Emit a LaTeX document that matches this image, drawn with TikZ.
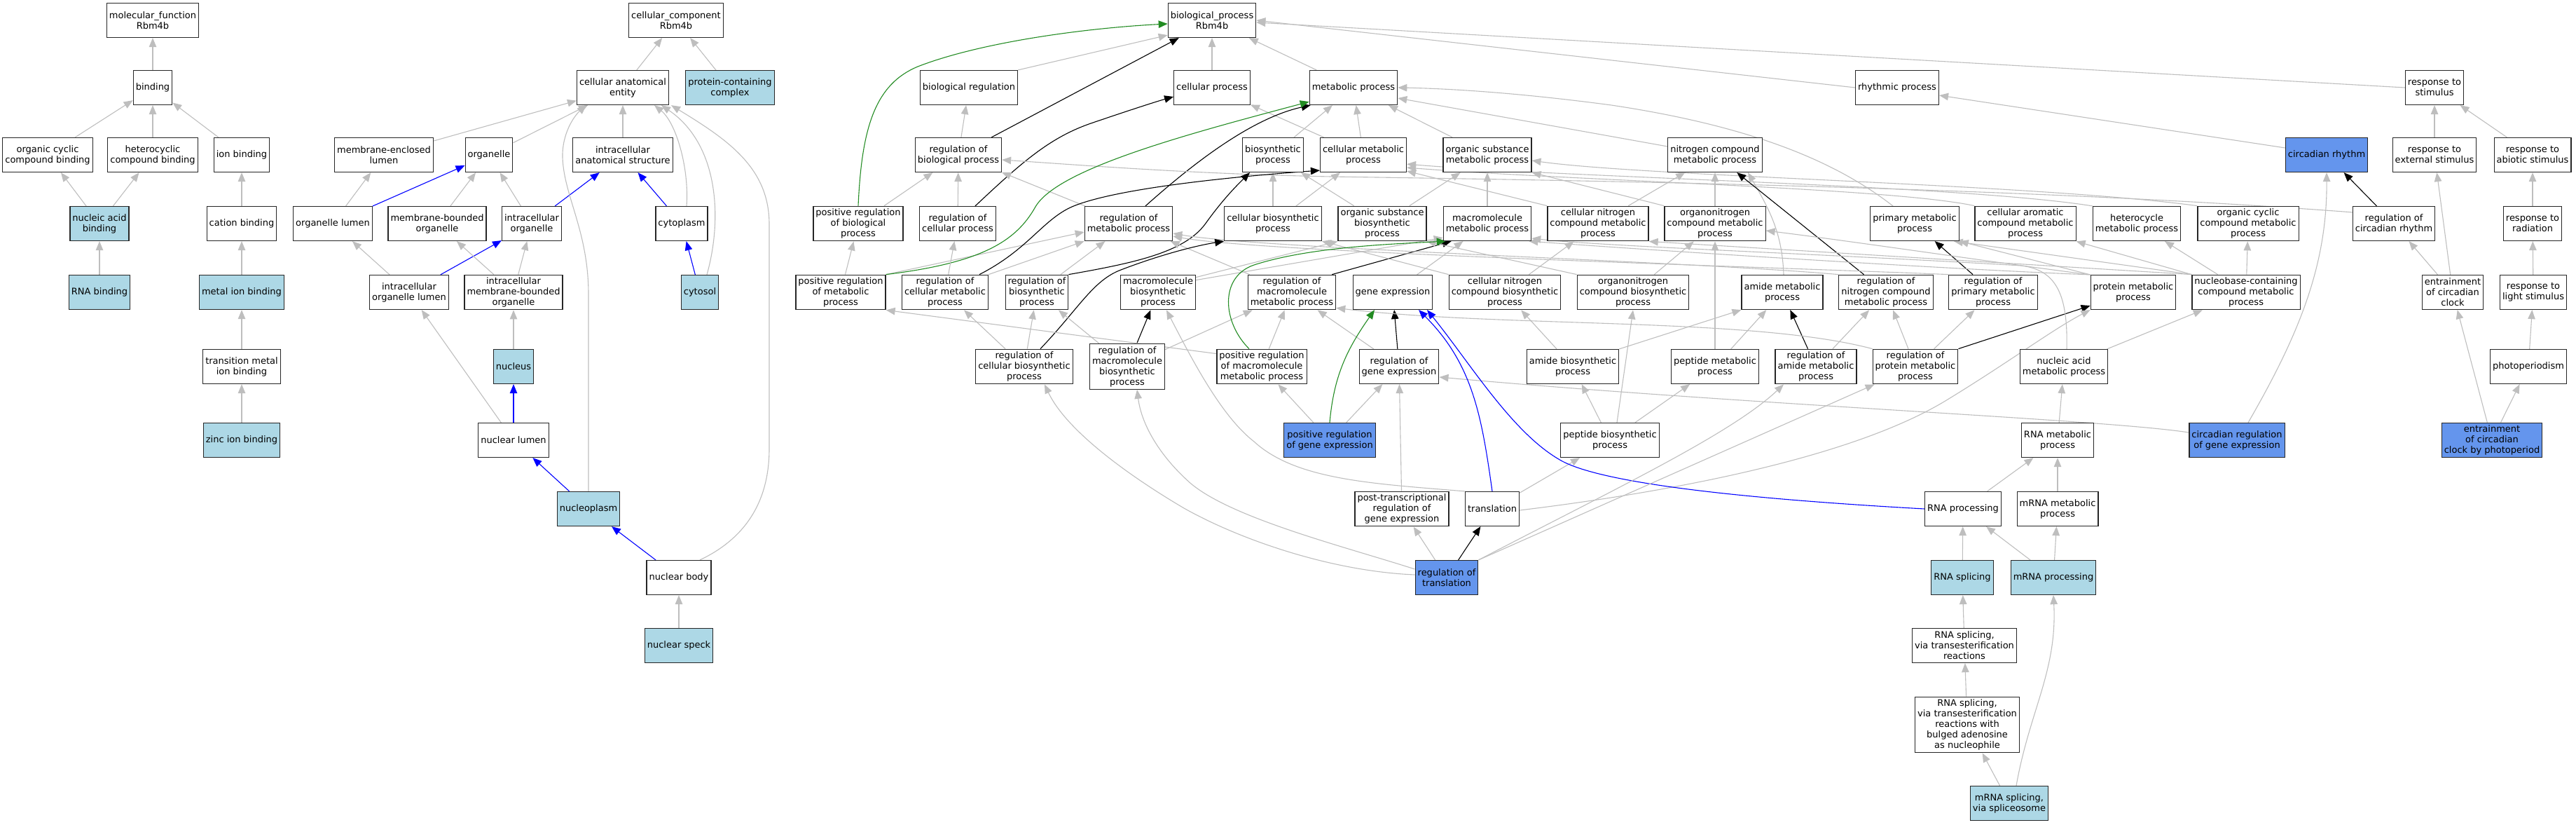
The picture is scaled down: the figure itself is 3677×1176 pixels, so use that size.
\documentclass[tikz,border=0pt]{standalone}
\usepackage{fontspec}
\setmainfont{DejaVu Sans}
\usetikzlibrary{arrows.meta,backgrounds}
\definecolor{annotated}{HTML}{ADD8E6}
\definecolor{selected}{HTML}{6495ED}
\definecolor{isagray}{HTML}{BEBEBE}
\definecolor{posgreen}{HTML}{228B22}
\tikzset{
  term/.style={draw=black!85, line width=1.2pt, fill=white, rectangle, align=center,
    inner xsep=3.5pt, inner ysep=3.5pt, minimum height=49pt,
    font=\fontsize{13}{15}\selectfont},
  annot/.style={term, fill=annotated},
  chosen/.style={term, fill=selected},
  link/.style={line width=1.1pt, -{Triangle[length=13pt,width=10.5pt]}},
  isa/.style={link, isagray},
  partof/.style={link, blue},
  regs/.style={link, black},
  posregs/.style={link, posgreen},
}
\begin{document}
\begin{tikzpicture}[x=1pt,y=-1pt]
\useasboundingbox (0,0) rectangle (3677,1176);
\node[term] (mf) at (218,29) {molecular\_function\\Rbm4b};
\node[term] (binding) at (218,125) {binding};
\node[term] (occb) at (68,221) {organic cyclic\\compound binding};
\node[term] (hcb) at (218,221) {heterocyclic\\compound binding};
\node[term] (ionb) at (345,221) {ion binding};
\node[annot] (nab) at (142,319) {nucleic acid\\binding};
\node[term] (cationb) at (345,319) {cation binding};
\node[annot] (rnab) at (142,417) {RNA binding};
\node[annot] (metalb) at (345,417) {metal ion binding};
\node[term] (tmib) at (345,523) {transition metal\\ion binding};
\node[annot] (zincb) at (345,628) {zinc ion binding};
\node[term] (cc) at (965,29) {cellular\_component\\Rbm4b};
\node[term] (cae) at (889,125) {cellular anatomical\\entity};
\node[annot] (pcc) at (1042,125) {protein-containing\\complex};
\node[term] (mel) at (548,221) {membrane-enclosed\\lumen};
\node[term] (organelle) at (698,221) {organelle};
\node[term] (ias) at (889,221) {intracellular\\anatomical structure};
\node[term] (olumen) at (475,319) {organelle lumen};
\node[term] (mbo) at (624,319) {membrane-bounded\\organelle};
\node[term] (iorg) at (759,319) {intracellular\\organelle};
\node[term] (cytoplasm) at (973,319) {cytoplasm};
\node[term] (iol) at (584,417) {intracellular\\organelle lumen};
\node[term] (imbo) at (733,417) {intracellular\\membrane-bounded\\organelle};
\node[annot] (cytosol) at (999,417) {cytosol};
\node[annot] (nucleus) at (733,523) {nucleus};
\node[term] (nlumen) at (733,628) {nuclear lumen};
\node[annot] (nplasm) at (840,726) {nucleoplasm};
\node[term] (nbody) at (969,824) {nuclear body};
\node[annot] (nspeck) at (969,921) {nuclear speck};
\node[term] (bp) at (1730,29) {biological\_process\\Rbm4b};
\node[term] (bioreg) at (1383,125) {biological regulation};
\node[term] (cellproc) at (1730,125) {cellular process};
\node[term] (metproc) at (1932,125) {metabolic process};
\node[term] (rhythmic) at (2708,125) {rhythmic process};
\node[term] (respstim) at (3475,125) {response to\\stimulus};
\node[term] (regbio) at (1368,221) {regulation of\\biological process};
\node[term] (biosyn) at (1817,221) {biosynthetic\\process};
\node[term] (cellmet) at (1946,221) {cellular metabolic\\process};
\node[term] (orgsubmet) at (2123,221) {organic substance\\metabolic process};
\node[term] (nitromet) at (2448,221) {nitrogen compound\\metabolic process};
\node[chosen] (circrhythm) at (3321,221) {circadian rhythm};
\node[term] (respext) at (3475,221) {response to\\external stimulus};
\node[term] (respabio) at (3615,221) {response to\\abiotic stimulus};
\node[term] (posregbio) at (1225,319) {positive regulation\\of biological\\process};
\node[term] (regcell) at (1367,319) {regulation of\\cellular process};
\node[term] (regmet) at (1611,319) {regulation of\\metabolic process};
\node[term] (cellbiosyn) at (1817,319) {cellular biosynthetic\\process};
\node[term] (orgsubbiosyn) at (1973,319) {organic substance\\biosynthetic\\process};
\node[term] (macromet) at (2123,319) {macromolecule\\metabolic process};
\node[term] (cncmet) at (2281,319) {cellular nitrogen\\compound metabolic\\process};
\node[term] (orgnitromet) at (2448,319) {organonitrogen\\compound metabolic\\process};
\node[term] (primet) at (2733,319) {primary metabolic\\process};
\node[term] (cellaro) at (2891,319) {cellular aromatic\\compound metabolic\\process};
\node[term] (hetero) at (3050,319) {heterocycle\\metabolic process};
\node[term] (orgcyc) at (3209,319) {organic cyclic\\compound metabolic\\process};
\node[term] (regcirc) at (3417,319) {regulation of\\circadian rhythm};
\node[term] (resprad) at (3615,319) {response to\\radiation};
\node[term] (posregmet) at (1200,417) {positive regulation\\of metabolic\\process};
\node[term] (regcellmet) at (1349,417) {regulation of\\cellular metabolic\\process};
\node[term] (regbiosyn) at (1480,417) {regulation of\\biosynthetic\\process};
\node[term] (macrobiosyn) at (1653,417) {macromolecule\\biosynthetic\\process};
\node[term] (regmacromet) at (1844,417) {regulation of\\macromolecule\\metabolic process};
\node[term] (geneexp) at (1988,417) {gene expression};
\node[term] (cncbiosyn) at (2148,417) {cellular nitrogen\\compound biosynthetic\\process};
\node[term] (orgnitrobiosyn) at (2331,417) {organonitrogen\\compound biosynthetic\\process};
\node[term] (amidemet) at (2544,417) {amide metabolic\\process};
\node[term] (regnitro) at (2692,417) {regulation of\\nitrogen compound\\metabolic process};
\node[term] (regprim) at (2845,417) {regulation of\\primary metabolic\\process};
\node[term] (protmet) at (3045,417) {protein metabolic\\process};
\node[term] (ncmp) at (3206,417) {nucleobase-containing\\compound metabolic\\process};
\node[term] (entrain) at (3501,417) {entrainment\\of circadian\\clock};
\node[term] (resplight) at (3616,417) {response to\\light stimulus};
\node[term] (regcellbiosyn) at (1462,523) {regulation of\\cellular biosynthetic\\process};
\node[term] (regmacrobiosyn) at (1609,523) {regulation of\\macromolecule\\biosynthetic\\process};
\node[term] (posregmacromet) at (1801,523) {positive regulation\\of macromolecule\\metabolic process};
\node[term] (reggene) at (1997,523) {regulation of\\gene expression};
\node[term] (amidebiosyn) at (2245,523) {amide biosynthetic\\process};
\node[term] (peptmet) at (2448,523) {peptide metabolic\\process};
\node[term] (regamide) at (2592,523) {regulation of\\amide metabolic\\process};
\node[term] (regprot) at (2734,523) {regulation of\\protein metabolic\\process};
\node[term] (nucacid) at (2946,523) {nucleic acid\\metabolic process};
\node[term] (photoper) at (3609,523) {photoperiodism};
\node[chosen] (posreggene) at (1898,628) {positive regulation\\of gene expression};
\node[term] (peptbiosyn) at (2298,628) {peptide biosynthetic\\process};
\node[term] (rnamet) at (2937,628) {RNA metabolic\\process};
\node[chosen] (circreg) at (3193,628) {circadian regulation\\of gene expression};
\node[chosen] (entrainphoto) at (3557,628) {entrainment\\of circadian\\clock by photoperiod};
\node[term] (postrans) at (2001,726) {post-transcriptional\\regulation of\\gene expression};
\node[term] (transl) at (2130,726) {translation};
\node[term] (rnaproc) at (2802,726) {RNA processing};
\node[term] (mrnamet) at (2937,726) {mRNA metabolic\\process};
\node[chosen] (regtrans) at (2065,824) {regulation of\\translation};
\node[annot] (rnasplice) at (2801,824) {RNA splicing};
\node[annot] (mrnaproc) at (2931,824) {mRNA processing};
\node[term] (splicetrans) at (2804,921) {RNA splicing,\\via transesterification\\reactions};
\node[term] (splicebulged) at (2808,1034) {RNA splicing,\\via transesterification\\reactions with\\bulged adenosine\\as nucleophile};
\node[annot] (splicesome) at (2868,1146) {mRNA splicing,\\via spliceosome};
\begin{scope}[on background layer]
\draw[isa] (binding) -- (mf);
\draw[isa] (occb) -- (binding);
\draw[isa] (hcb) -- (binding);
\draw[isa] (ionb) -- (binding);
\draw[isa] (nab) -- (occb);
\draw[isa] (nab) -- (hcb);
\draw[isa] (rnab) -- (nab);
\draw[isa] (cationb) -- (ionb);
\draw[isa] (metalb) -- (cationb);
\draw[isa] (tmib) -- (metalb);
\draw[isa] (zincb) -- (tmib);
\draw[isa] (cae) -- (cc);
\draw[isa] (pcc) -- (cc);
\draw[isa] (mel) -- (cae);
\draw[isa] (organelle) -- (cae);
\draw[isa] (ias) -- (cae);
\draw[isa] (olumen) -- (mel);
\draw[partof] (olumen) -- (organelle);
\draw[isa] (mbo) -- (organelle);
\draw[isa] (iorg) -- (organelle);
\draw[partof] (iorg) -- (ias);
\draw[partof] (cytoplasm) -- (ias);
\draw[isa] ([xshift=7pt]cytoplasm.north) .. controls (984,240) and (965,175) .. ([xshift=45pt]cae.south);
\draw[isa] (iol) -- (olumen);
\draw[partof] (iol) -- (iorg);
\draw[isa] (imbo) -- (mbo);
\draw[isa] (imbo) -- (iorg);
\draw[partof] (cytosol) -- (cytoplasm);
\draw[isa] ([xshift=10pt]cytosol.north) .. controls (1032,310) and (1025,205) .. ([xshift=55pt]cae.south);
\draw[isa] (nucleus) -- (imbo);
\draw[partof] (nlumen) -- (nucleus);
\draw[isa] (nlumen) -- (iol);
\draw[partof] (nplasm) -- (nlumen);
\draw[isa] (nplasm.north) -- (840,420) .. controls (840,330) and (805,280) .. (803,225) .. controls (802,190) and (820,165) .. ([xshift=-52pt]cae.south);
\draw[partof] (nbody) -- (nplasm);
\draw[isa] ([xshift=30pt]nbody.north) .. controls (1060,770) and (1098,720) .. (1098,640) -- (1098,320) .. controls (1098,240) and (1040,200) .. ([xshift=69pt]cae.south);
\draw[isa] (nspeck) -- (nbody);
\draw[isa] (bioreg.north east) -- ([yshift=4pt]bp.south west);
\draw[isa] (cellproc) -- (bp);
\draw[isa] (metproc) -- (bp);
\draw[isa] (rhythmic.west) -- (bp.east);
\draw[isa] (respstim.west) -- ([yshift=-3pt]bp.east);
\draw[isa] (regbio) -- (bioreg);
\draw[regs] (regbio) -- (bp);
\draw[isa] (biosyn) -- (metproc);
\draw[isa] (cellmet) -- (metproc);
\draw[isa] (cellmet) -- (cellproc);
\draw[isa] (orgsubmet) -- (metproc);
\draw[isa] ([yshift=12pt]nitromet.west) -- ([yshift=-15pt]metproc.east);
\draw[isa] ([xshift=-31pt]primet.north) .. controls (2620,230) and (2500,180) .. (2300,150) .. controls (2150,130) and (2050,126) .. (metproc.east);
\draw[isa] ([yshift=10pt]circrhythm.west) -- ([yshift=-11pt]rhythmic.east);
\draw[isa] (respext) -- (respstim);
\draw[isa] (respabio) -- (respstim);
\draw[posregs] (posregbio.north) .. controls (1230,180) and (1250,120) .. (1310,95) .. controls (1400,60) and (1550,40) .. ([yshift=-5pt]bp.west);
\draw[isa] (posregbio) -- (regbio);
\draw[isa] (regcell) -- (regbio);
\draw[regs] ([xshift=25pt]regcell.north) .. controls (1460,230) and (1500,195) .. (1560,175) .. controls (1610,158) and (1650,145) .. ([yshift=-13pt]cellproc.west);
\draw[isa] (regmet) -- (regbio);
\draw[regs] ([xshift=24pt]regmet.north) .. controls (1690,245) and (1780,170) .. ([xshift=2pt]metproc.south west);
\draw[isa] (cellbiosyn) -- (biosyn);
\draw[isa] (cellbiosyn) -- (cellmet);
\draw[isa] (orgsubbiosyn) -- (biosyn);
\draw[isa] (orgsubbiosyn) -- (orgsubmet);
\draw[isa] (macromet) -- (orgsubmet);
\draw[isa] (cncmet.north west) -- ([yshift=2pt]cellmet.south east);
\draw[isa] (cncmet) -- (nitromet);
\draw[isa] (orgnitromet.north west) -- (orgsubmet.south east);
\draw[isa] (orgnitromet) -- (nitromet);
\draw[isa] (cellaro.north west) .. controls (2700,268) and (2250,258) .. ([yshift=7pt]cellmet.south east);
\draw[isa] (hetero.north west) .. controls (2800,264) and (2250,254) .. ([yshift=12pt]cellmet.south east);
\draw[isa] (orgcyc.north west) .. controls (2900,262) and (2350,252) .. ([yshift=-8pt]orgsubmet.east);
\draw[regs] (regcirc) -- (circrhythm);
\draw[isa] ([yshift=-9pt]regcirc.north west) .. controls (2900,268) and (2300,258) .. (1900,252) .. controls (1700,248) and (1550,236) .. ([yshift=-7pt]regbio.east);
\draw[isa] (resprad) -- (respabio);
\draw[isa] (posregmet) -- (posregbio);
\draw[isa] (posregmet.north east) -- ([yshift=-12pt]regmet.west);
\draw[posregs] (posregmet.north east) .. controls (1400,375) and (1450,345) .. (1478,295) .. controls (1510,240) and (1700,190) .. ([yshift=5pt]metproc.south west);
\draw[isa] (regcellmet) -- (regcell);
\draw[isa] (regcellmet.north east) -- (regmet.south west);
\draw[regs] ([xshift=49pt]regcellmet.north) .. controls (1470,355) and (1490,310) .. (1535,293) .. controls (1600,268) and (1760,252) .. ([yshift=3pt]cellmet.south west);
\draw[isa] (regbiosyn) -- (regmet);
\draw[regs] (regbiosyn.north east) .. controls (1620,375) and (1690,360) .. (1720,320) .. controls (1745,285) and (1765,265) .. ([xshift=11pt]biosyn.south west);
\draw[isa] ([yshift=-4pt]macrobiosyn.north east) -- (orgsubbiosyn.south west);
\draw[isa] ([yshift=-8pt]macrobiosyn.north east) -- ([yshift=5pt]macromet.south west);
\draw[isa] (regmacromet) -- (regmet);
\draw[regs] ([xshift=-6pt]regmacromet.north east) -- ([xshift=12pt]macromet.south west);
\draw[isa] (geneexp) -- (macromet);
\draw[isa] (cncbiosyn) -- (cncmet);
\draw[isa] (cncbiosyn.north west) -- (cellbiosyn.south east);
\draw[isa] (orgnitrobiosyn) -- (orgnitromet);
\draw[isa] (orgnitrobiosyn.north west) -- (orgsubbiosyn.south east);
\draw[isa] ([xshift=2pt]amidemet.north) to[out=92,in=-60] ([xshift=47pt]nitromet.south);
\draw[regs] (regnitro) -- (nitromet);
\draw[isa] (regnitro.north west) .. controls (2400,372) and (1800,355) .. ([yshift=-14pt]regmet.east);
\draw[regs] (regprim) -- (primet);
\draw[isa] (regprim.north west) .. controls (2500,380) and (1800,360) .. ([yshift=-18pt]regmet.east);
\draw[isa] (protmet.north west) -- (primet.south east);
\draw[isa] (protmet.north west) .. controls (2850,375) and (2650,345) .. ([yshift=-10pt]orgnitromet.east);
\draw[isa] (protmet.north west) .. controls (2800,385) and (2400,360) .. ([xshift=-4pt]macromet.south east);
\draw[isa] (ncmp) -- (hetero);
\draw[isa] (ncmp) -- (orgcyc);
\draw[isa] (ncmp.north west) -- (cellaro.south east);
\draw[isa] (ncmp.north west) -- (cncmet.south east);
\draw[isa] (ncmp.north west) -- ([xshift=-8pt]primet.south east);
\draw[isa] (entrain) -- (regcirc);
\draw[isa] (entrain) -- (respext);
\draw[isa] (resplight) -- (resprad);
\draw[isa] (regcellbiosyn) -- (regcellmet);
\draw[isa] (regcellbiosyn) -- (regbiosyn);
\draw[regs] ([xshift=23pt]regcellbiosyn.north) .. controls (1540,440) and (1560,400) .. (1600,385) .. controls (1660,362) and (1710,350) .. (cellbiosyn.south west);
\draw[isa] (regmacrobiosyn) -- (regbiosyn);
\draw[regs] (regmacrobiosyn) -- (macrobiosyn);
\draw[isa] (regmacrobiosyn) -- (regmacromet);
\draw[isa] ([yshift=-7pt]posregmacromet.north west) -- (posregmet.south east);
\draw[posregs] ([xshift=-18pt]posregmacromet.north) .. controls (1745,460) and (1740,395) .. (1790,378) .. controls (1870,352) and (1990,348) .. ([xshift=4pt]macromet.south west);
\draw[isa] (posregmacromet) -- (regmacromet);
\draw[isa] (reggene) -- (regmacromet);
\draw[regs] (reggene) -- (geneexp);
\draw[isa] (amidebiosyn) -- (cncbiosyn);
\draw[isa] (amidebiosyn.north east) -- (amidemet.south west);
\draw[isa] (peptmet) -- (amidemet);
\draw[isa] (peptmet) -- (orgnitromet);
\draw[regs] (regamide) -- (amidemet);
\draw[isa] (regamide) -- (regnitro);
\draw[isa] (regprot) -- (regnitro);
\draw[isa] (regprot) -- (regprim);
\draw[regs] (regprot.north east) -- ([yshift=6pt]protmet.south west);
\draw[isa] (regprot.north west) .. controls (2500,452) and (2150,468) .. ([yshift=3pt]regmacromet.south east);
\draw[isa] (nucacid) -- (ncmp);
\draw[isa] ([xshift=4pt]nucacid.north) .. controls (2952,420) and (2935,385) .. (2885,379) .. controls (2600,362) and (2300,352) .. ([yshift=4pt]macromet.south east);
\draw[isa] (photoper) -- (resplight);
\draw[isa] (posreggene) -- (posregmacromet);
\draw[isa] (posreggene) -- (reggene);
\draw[posregs] (posreggene.north) to[out=85,in=235] ([xshift=-26pt]geneexp.south);
\draw[isa] (peptbiosyn) -- (peptmet);
\draw[isa] (peptbiosyn) -- (amidebiosyn);
\draw[isa] ([xshift=10pt]peptbiosyn.north) -- (orgnitrobiosyn.south);
\draw[isa] (rnamet) -- (nucacid);
\draw[isa] ([xshift=16pt]circreg.north) .. controls (3280,480) and (3322,380) .. (circrhythm.south);
\draw[isa] ([yshift=11pt]circreg.west) .. controls (3000,598) and (2500,578) .. ([yshift=-15pt]reggene.east);
\draw[isa] (entrainphoto) -- (entrain);
\draw[isa] (entrainphoto) -- (photoper);
\draw[isa] (postrans) -- (reggene);
\draw[partof] (transl.north) to[out=98,in=-45] ([xshift=37pt]geneexp.south);
\draw[isa] (transl) -- (peptbiosyn);
\draw[isa] (transl.north west) .. controls (1960,690) and (1850,685) .. (1790,630) .. controls (1745,595) and (1705,520) .. ([xshift=12pt]macrobiosyn.south);
\draw[isa] ([yshift=-2pt]transl.east) .. controls (2400,700) and (2650,650) .. (2780,570) .. controls (2870,515) and (2930,470) .. (protmet.south west);
\draw[isa] (rnaproc) -- (rnamet);
\draw[partof] (rnaproc.west) .. controls (2550,715) and (2300,695) .. (2230,658) .. controls (2160,620) and (2100,520) .. ([xshift=49pt]geneexp.south);
\draw[isa] (mrnamet) -- (rnamet);
\draw[isa] (regtrans) -- (postrans);
\draw[regs] (regtrans) -- (transl);
\draw[isa] ([yshift=4pt]regtrans.west) .. controls (1900,815) and (1770,770) .. (1690,725) .. controls (1600,672) and (1520,610) .. ([xshift=29pt]regcellbiosyn.south);
\draw[isa] ([yshift=12pt]regtrans.west) .. controls (1920,780) and (1760,740) .. (1700,690) .. controls (1660,655) and (1630,610) .. ([xshift=14pt]regmacrobiosyn.south);
\draw[isa] (regtrans.north east) .. controls (2300,700) and (2470,620) .. ([xshift=-46pt]regamide.south);
\draw[isa] (regtrans.north east) -- ([xshift=3pt]regprot.south west);
\draw[isa] (rnasplice) -- (rnaproc);
\draw[isa] (mrnaproc) -- (rnaproc);
\draw[isa] (mrnaproc) -- (mrnamet);
\draw[isa] (splicetrans) -- (rnasplice);
\draw[isa] (splicebulged) -- (splicetrans);
\draw[isa] (splicesome) -- (splicebulged);
\draw[isa] ([xshift=10pt]splicesome.north) to[out=80,in=-87] (mrnaproc.south);
\end{scope}
\end{tikzpicture}
\end{document}
